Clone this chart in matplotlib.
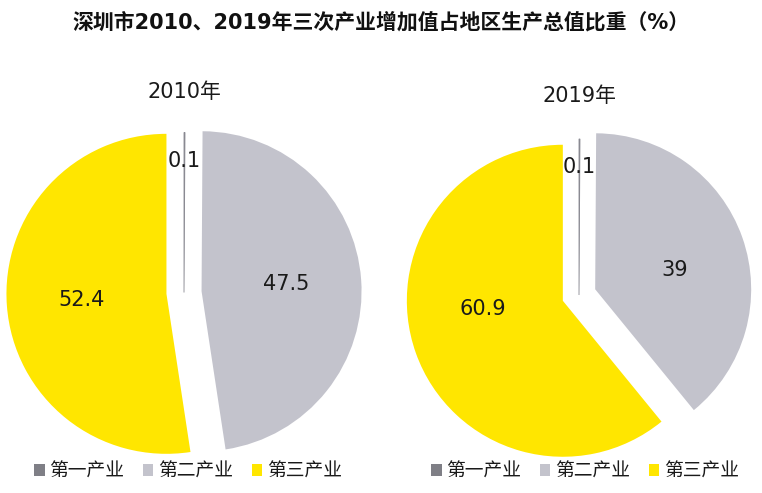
import matplotlib
matplotlib.use("Agg")
import matplotlib.pyplot as plt
from matplotlib.patches import Patch
import numpy as np

plt.rcParams['font.family'] = ['DejaVu Sans', 'Noto Sans CJK SC']

title = "深圳市2010、2019年三次产业增加值占地区生产总值比重（%）"
categories = ["第一产业", "第二产业", "第三产业"]
years = ["2010年", "2019年"]
values_2010 = [0.1, 47.5, 52.4]
values_2019 = [0.1, 39, 60.9]
label_text_2010 = ["0.1", "47.5", "52.4"]
label_text_2019 = ["0.1", "39", "60.9"]

colors = ["#7f7f86", "#c3c3cc", "#ffe600"]

W, H = 762, 493
fig = plt.figure(figsize=(W / 100, H / 100), dpi=100)

fig.text(0.5, 1 - 22 / H, title, ha='center', va='center', fontsize=15,
         fontweight='bold', family=['DejaVu Sans', 'Noto Sans CJK SC'], color='#111111')


def make_pie(cx, cy, scale, vals, texts, year, label_dist, angle_shift, year_y):
    lim = 1.15
    size = 2 * lim * scale
    ax = fig.add_axes([(cx - size / 2) / W, (H - cy - size / 2) / H, size / W, size / H])
    wedges, _ = ax.pie(vals, colors=colors, startangle=90, counterclock=False,
                       explode=[0.0, 0.11, 0.11], radius=1.0,
                       wedgeprops=dict(linewidth=0))
    wedges[0].set_edgecolor('#8a8a92')
    wedges[0].set_linewidth(0.6)
    for i, w in enumerate(wedges):
        th = np.deg2rad((w.theta1 + w.theta2) / 2 + angle_shift[i])
        d = label_dist[i]
        ax.text(d * np.cos(th), d * np.sin(th), texts[i], ha='center', va='center',
                fontsize=15, color='#1a1a1a', zorder=5)
    ax.set_xlim(-lim, lim)
    ax.set_ylim(-lim, lim)
    ax.axis('off')
    fig.text(cx / W, 1 - year_y / H, year, ha='center', va='center', fontsize=15,
             color='#1a1a1a')
    return ax


make_pie(184, 292.5, 160, values_2010, label_text_2010, years[0],
         [0.82, 0.64, 0.64], [0, 0.5, 0], 92)
make_pie(579, 295, 156, values_2019, label_text_2019, years[1],
         [0.82, 0.635, 0.62], [0, -5, -11.5], 96)

handles = [Patch(facecolor=c, edgecolor='none') for c in colors]
for xc in (188, 585):
    fig.legend(handles, categories, loc='center', bbox_to_anchor=(xc / W, 1 - 471 / H),
               ncol=3, frameon=False, fontsize=13.5, handlelength=0.55, handleheight=0.55,
               handletextpad=0.25, columnspacing=1.0, labelcolor='#1a1a1a')

fig.savefig("out.png", dpi=100)
